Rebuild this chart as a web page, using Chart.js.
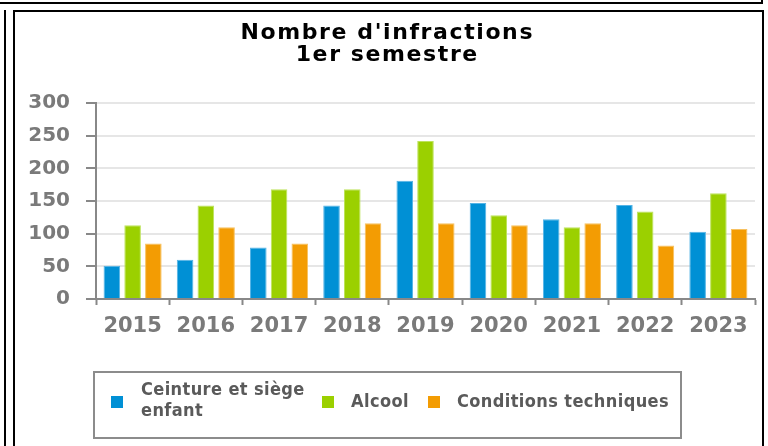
<!DOCTYPE html>
<html>
<head>
<meta charset="utf-8">
<script src="https://cdn.jsdelivr.net/npm/chart.js@4/dist/chart.umd.min.js"></script>
<style>
  html, body { margin: 0; padding: 0; background: #fff; }
  #wrap { position: relative; width: 768px; height: 446px; overflow: hidden; background: #fff; }
  canvas { position: absolute; left: 0; top: 0; }
  .ln { position: absolute; background: #000; }
  #legend { position: absolute; left: 93px; top: 371px; width: 585px; height: 64px;
            border: 2px solid #8c8c8c; box-sizing: content-box;
            font-family: "DejaVu Sans Condensed", "DejaVu Sans", sans-serif; font-weight: bold;
            font-size: 18px; letter-spacing: 0.4px; color: #5a5a5a; }
  .sw { position: absolute; width: 12px; height: 12px; }
  .lt { position: absolute; line-height: 21px; white-space: nowrap; }
</style>
</head>
<body>
<div id="wrap">
  <div class="ln" style="left:0;top:2px;width:763px;height:2px;"></div>
  <div class="ln" style="left:761px;top:0;width:2px;height:4px;"></div>
  <div class="ln" style="left:4px;top:10px;width:2px;height:436px;"></div>
  <div class="ln" style="left:13px;top:10px;width:751px;height:2px;"></div>
  <div class="ln" style="left:13px;top:10px;width:2px;height:436px;"></div>
  <div class="ln" style="left:762px;top:10px;width:2px;height:436px;"></div>
  <canvas id="c" width="768" height="446"></canvas>
  <div id="legend"></div>
</div>
<script>
const categories = ["2015", "2016", "2017", "2018", "2019", "2020", "2021", "2022", "2023"];
const seriesNames = ["Ceinture et siège enfant", "Alcool", "Conditions techniques"];
const legendLines = [["Ceinture et siège", "enfant"], ["Alcool"], ["Conditions techniques"]];
const ceinture = [51, 60, 79, 143, 181, 147, 122, 144, 103];
const alcool = [113, 143, 168, 168, 242, 128, 110, 134, 162];
const conditions = [85, 110, 85, 116, 116, 113, 116, 82, 107];
const yTicks = [0, 50, 100, 150, 200, 250, 300];
const titleLines = ["Nombre d'infractions", "1er semestre"];
const colors = ["#0090d5", "#9bd000", "#f39c03"];
const borderColors = ["#55b4e6", "#bde35c", "#f7c160"];

const seriesValues = [ceinture, alcool, conditions];

const chart = new Chart(document.getElementById('c'), {
  type: 'bar',
  data: {
    labels: categories,
    datasets: seriesValues.map((vals, i) => ({
      label: seriesNames[i],
      data: vals,
      backgroundColor: colors[i],
      borderColor: borderColors[i],
      borderWidth: 1,
      categoryPercentage: 0.85,
      barPercentage: 0.8
    }))
  },
  options: {
    responsive: false,
    animation: false,
    devicePixelRatio: 1,
    layout: { padding: { left: 18, right: 13, top: 0, bottom: 97 } },
    plugins: {
      legend: { display: false },
      tooltip: { enabled: false },
      title: {
        display: true,
        text: titleLines,
        color: '#000',
        font: { family: 'DejaVu Sans', weight: 'bold', size: 22, lineHeight: 1.0 },
        padding: { top: 22, bottom: 37 }
      }
    },
    scales: {
      x: {
        afterFit: (s) => { s.height = 50; },
        border: { color: '#888', width: 2 },
        grid: { drawOnChartArea: false, drawTicks: true, tickLength: 6, tickColor: '#888', tickWidth: 2 },
        ticks: { color: '#7a7a7a', padding: 9, font: { family: 'DejaVu Sans', weight: 'bold', size: 21 } }
      },
      y: {
        min: 0, max: 300,
        afterFit: (s) => { s.width = 78; },
        afterBuildTicks: (s) => { s.ticks = yTicks.map(v => ({ value: v })); },
        border: { color: '#888', width: 2 },
        grid: { color: '#e6e6e6', lineWidth: 2, tickLength: 10, tickColor: '#888', tickWidth: 2 },
        ticks: { color: '#7a7a7a', padding: 16, font: { family: 'DejaVu Sans', weight: 'bold', size: 20 } }
      }
    }
  }
});

// widen the title lettering slightly, as in the reference
const tb = chart.titleBlock;
if (tb) {
  const origDraw = tb.draw.bind(tb);
  tb.draw = function () {
    const ctx = this.ctx;
    ctx.save();
    ctx.letterSpacing = '1.6px';
    ctx.translate(0.8, 0);
    origDraw();
    ctx.restore();
  };
  chart.draw();
}

// HTML legend
const legend = document.getElementById('legend');
const swX = [16, 227, 333];
const txX = [46, 256, 362];
legendLines.forEach((lines, i) => {
  const sw = document.createElement('div');
  sw.className = 'sw';
  sw.style.left = swX[i] + 'px';
  sw.style.top = '23px';
  sw.style.background = colors[i];
  legend.appendChild(sw);
  const t = document.createElement('div');
  t.className = 'lt';
  t.style.left = txX[i] + 'px';
  t.style.top = (lines.length > 1 ? 5 : 17) + 'px';
  t.innerHTML = lines.join('<br>');
  legend.appendChild(t);
});
</script>
</body>
</html>
